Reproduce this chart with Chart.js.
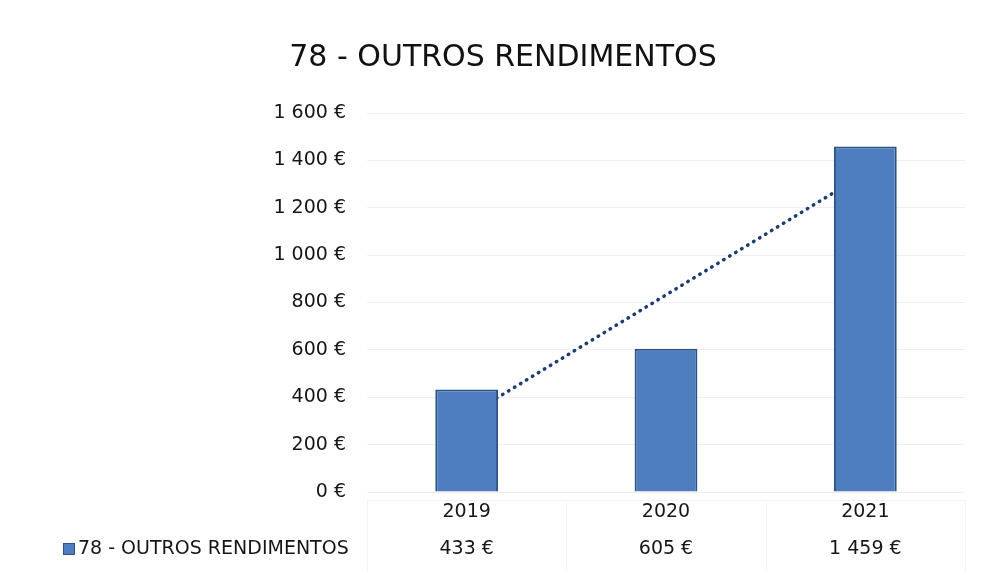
<!DOCTYPE html>
<html>
<head>
<meta charset="utf-8">
<script src="https://cdn.jsdelivr.net/npm/chart.js@4/dist/chart.umd.min.js"></script>
<style>
  body { margin: 0; background: #fff; }
  canvas { display: block; }
</style>
</head>
<body>
<canvas id="myChart" width="982" height="575"></canvas>
<script>
let titulo = "78 - OUTROS RENDIMENTOS";
let anos = ["2019", "2020", "2021"];
let valores = [433, 605, 1459];
// linha de tendência (linear)
let tendencia = [319, 832, 1345];
let yTicks = [0, 200, 400, 600, 800, 1000, 1200, 1400, 1600];

let fonte = "'DejaVu Sans', sans-serif";
let azul = "#4f7ebf";
let azulBorda = "#2b5189";

function euro(v) {
    return String(v).replace(/\B(?=(\d{3})+(?!\d))/g, " ") + " €";
}

// tabela de dados por baixo do eixo x
let tabela = {
    id: "tabela",
    afterDraw(chart) {
        let ctx = chart.ctx;
        let x = chart.scales.x;
        let area = chart.chartArea;
        let yLinha = area.bottom + 57;

        ctx.save();
        ctx.strokeStyle = "#f3f3f3";
        ctx.lineWidth = 1;
        ctx.beginPath();
        ctx.moveTo(area.left, area.bottom + 8.5);
        ctx.lineTo(area.right, area.bottom + 8.5);
        for (let i = 0; i <= anos.length; i++) {
            let px = Math.round(x.getPixelForValue(i - 0.5)) + 0.5;
            ctx.moveTo(px, area.bottom + 8);
            ctx.lineTo(px, chart.height - 4);
        }
        ctx.stroke();

        ctx.font = "19px " + fonte;
        ctx.fillStyle = "#161616";
        ctx.textBaseline = "middle";
        ctx.textAlign = "center";
        for (let i = 0; i < valores.length; i++) {
            ctx.fillText(euro(valores[i]), x.getPixelForValue(i), yLinha);
        }

        ctx.fillStyle = azul;
        ctx.fillRect(63, yLinha - 6, 12, 12);
        ctx.strokeStyle = azulBorda;
        ctx.strokeRect(63.5, yLinha - 5.5, 11, 11);
        ctx.fillStyle = "#161616";
        ctx.textAlign = "left";
        ctx.fillText(titulo, 78, yLinha);
        ctx.restore();
    }
};

new Chart("myChart", {
    type: "bar",
    data: {
        labels: anos,
        datasets: [{
            type: "bar",
            label: titulo,
            data: valores,
            backgroundColor: azul,
            borderColor: azulBorda,
            borderWidth: 2,
            categoryPercentage: 1,
            barPercentage: 0.315,
            order: 1
        }, {
            type: "line",
            label: "Tendência",
            data: tendencia,
            borderColor: "#1f3b70",
            borderWidth: 3.5,
            borderDash: [0.5, 6.5],
            borderCapStyle: "round",
            pointRadius: 0,
            fill: false,
            order: 2
        }]
    },
    options: {
        responsive: false,
        animation: false,
        layout: { padding: { left: 41, right: 17, top: 0, bottom: 0 } },
        plugins: {
            legend: { display: false },
            tooltip: { enabled: false },
            title: {
                display: true,
                text: titulo,
                color: "#111",
                font: { family: fonte, size: 30, weight: "normal" },
                padding: { top: 40, bottom: 37 }
            }
        },
        scales: {
            x: {
                grid: { display: false, drawTicks: false },
                border: { display: false },
                ticks: {
                    color: "#161616",
                    padding: 9,
                    font: { family: fonte, size: 19 }
                },
                afterFit(scale) { scale.height = 83; }
            },
            y: {
                min: 0,
                max: 1600,
                afterBuildTicks(scale) {
                    scale.ticks = yTicks.map(v => ({ value: v }));
                },
                grid: { color: "#efefef", drawTicks: false },
                border: { display: false },
                ticks: {
                    color: "#161616",
                    padding: 21,
                    font: { family: fonte, size: 19 },
                    callback: v => euro(v)
                },
                afterFit(scale) { scale.width = 326; }
            }
        }
    },
    plugins: [tabela]
});
</script>
</body>
</html>
